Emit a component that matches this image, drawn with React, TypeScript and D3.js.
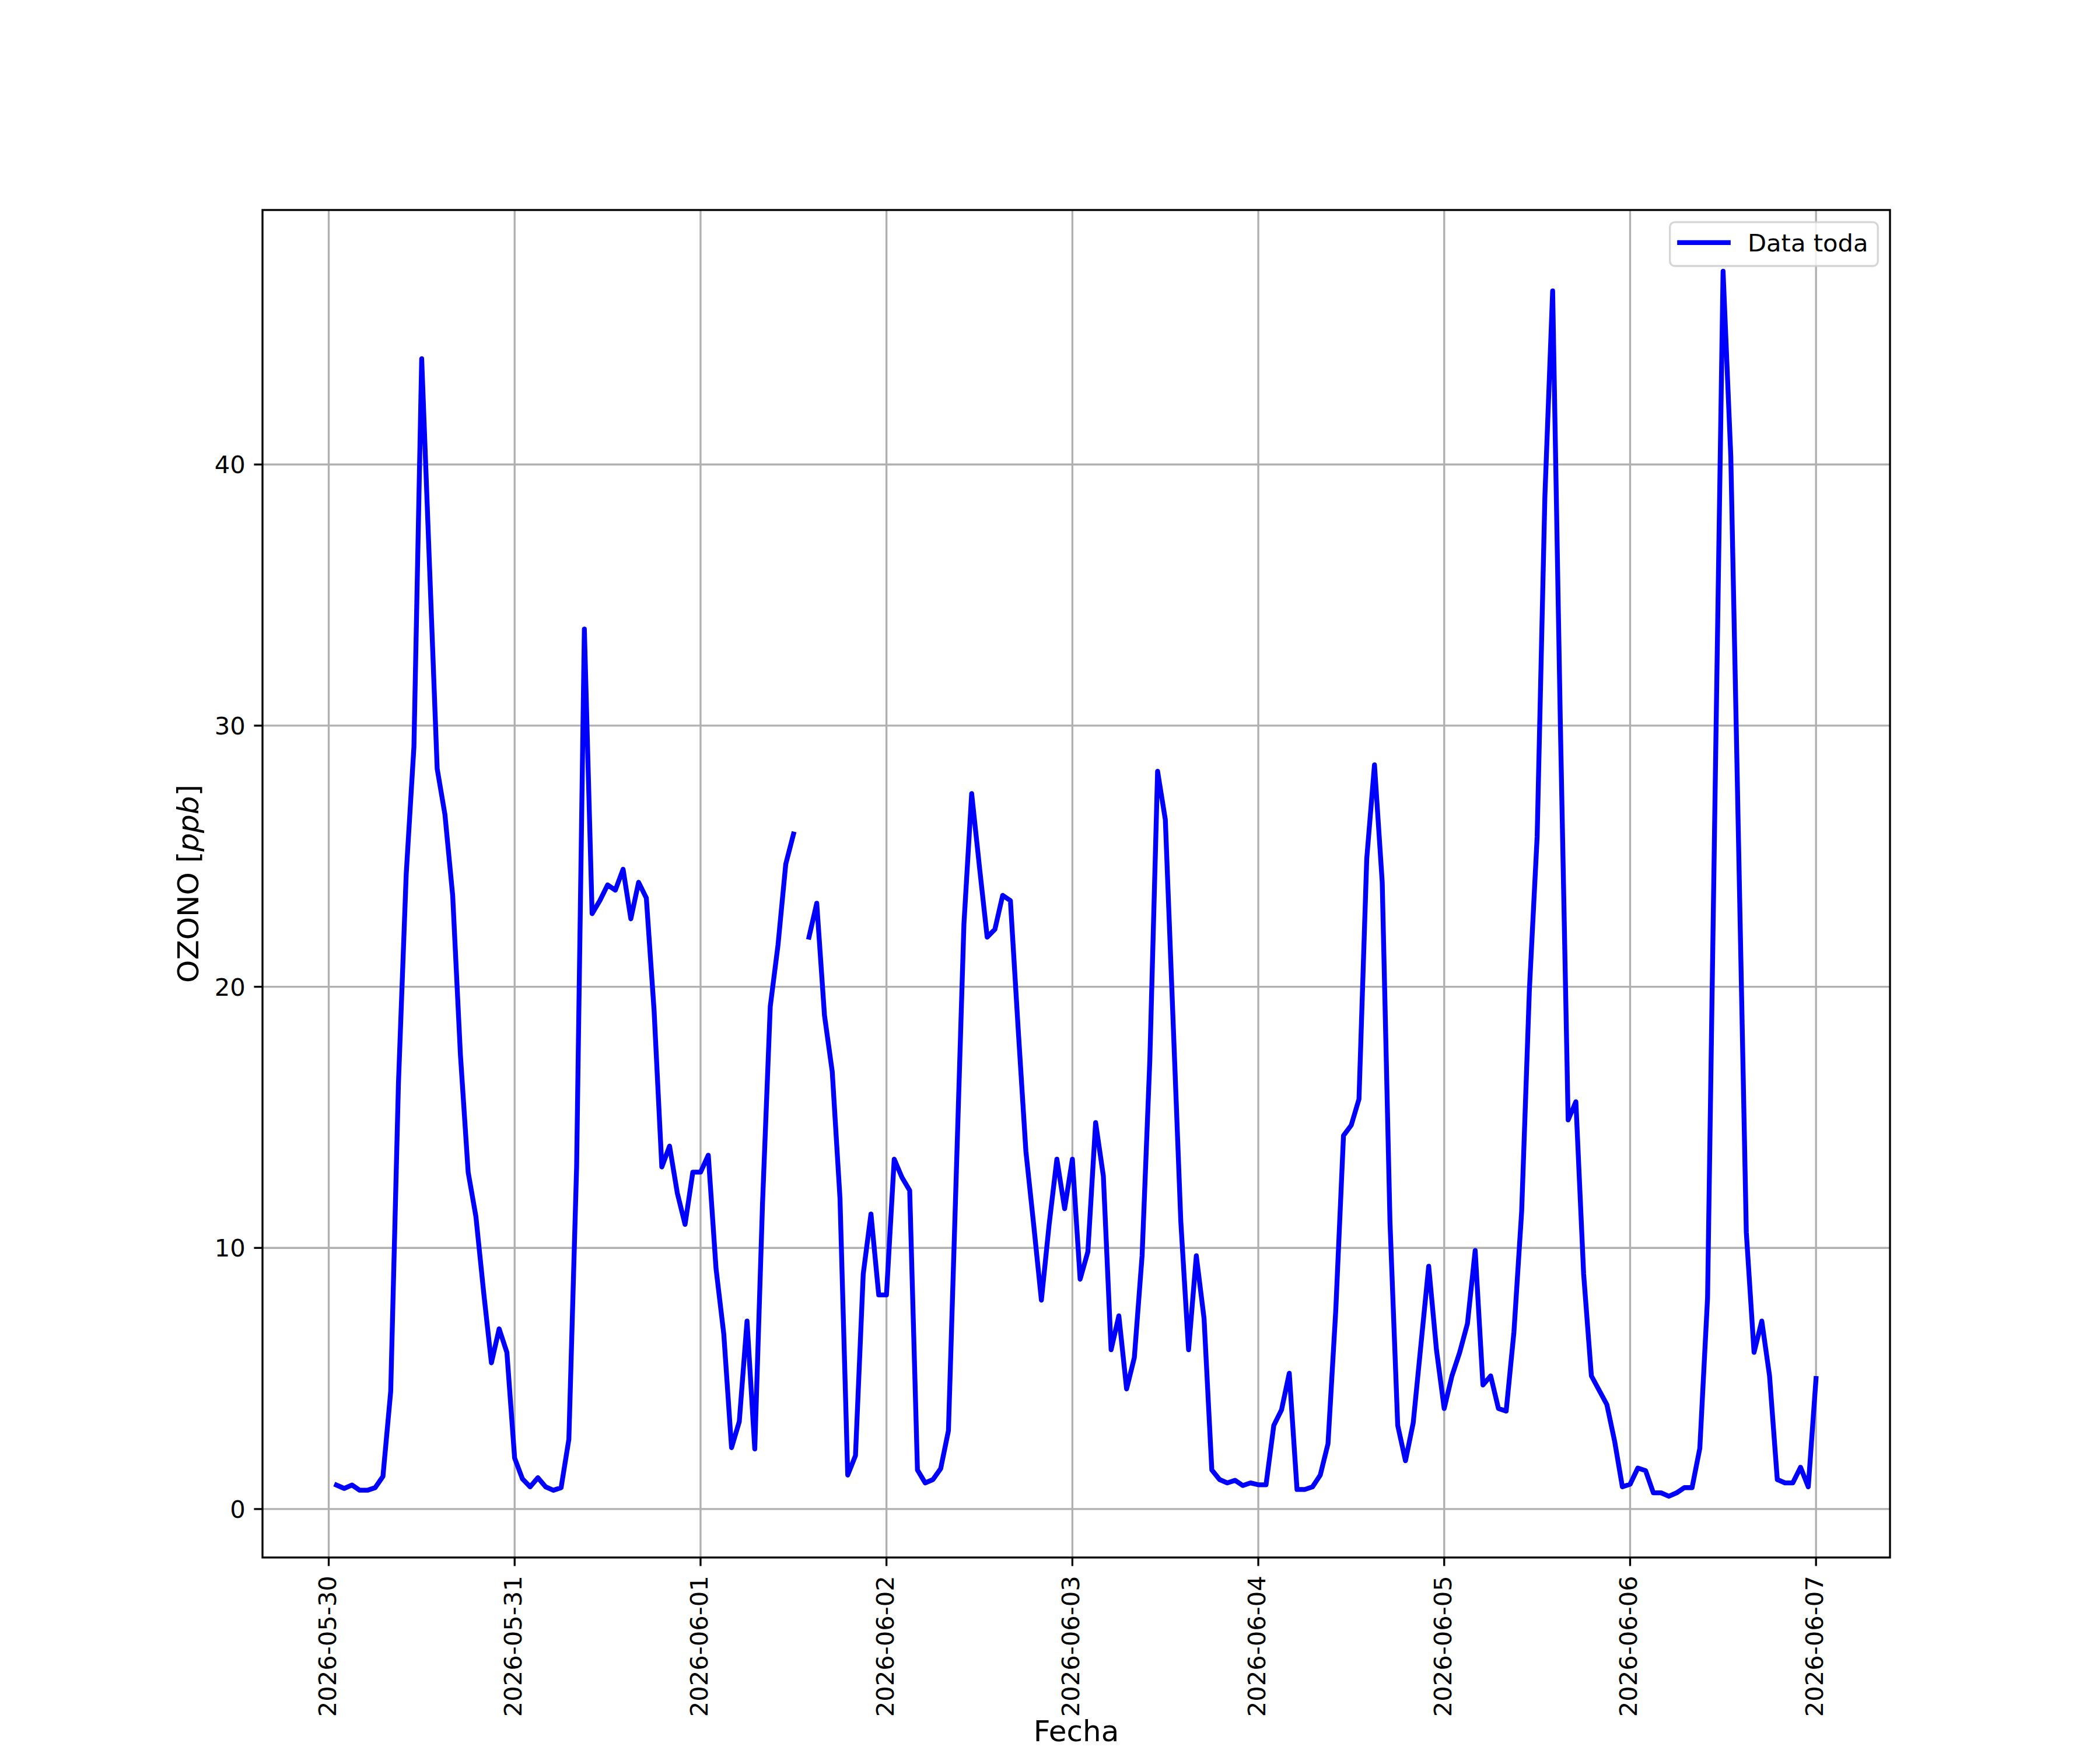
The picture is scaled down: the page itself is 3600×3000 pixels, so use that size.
import React from "react";
import * as d3 from "d3";

// Hourly ozone values (ppb); each array runs 01:00 of the named day to 00:00 of the next day
const day0530 = [0.92, 0.79, 0.92, 0.72, 0.72, 0.82, 1.25, 4.5, 16.3, 24.3, 29.2, 44.05, 36.2, 28.35, 26.6, 23.5, 17.4, 12.9, 11.2, 8.3, 5.6, 6.9, 6.0, 1.95];
const day0531 = [1.16, 0.85, 1.2, 0.85, 0.72, 0.82, 2.67, 13.1, 33.7, 22.8, 23.3, 23.9, 23.7, 24.5, 22.6, 24.0, 23.4, 19.1, 13.1, 13.9, 12.1, 10.9, 12.9, 12.9];
const day0601 = [13.55, 9.2, 6.7, 2.35, 3.35, 7.2, 2.3, 11.7, 19.25, 21.6, 24.7, 25.85, null, 21.9, 23.2, 18.9, 16.75, 11.9, 1.3, 2.05, 9.0, 11.3, 8.2, 8.2];
const day0602 = [13.4, 12.7, 12.2, 1.5, 1.0, 1.13, 1.55, 3.0, 12.7, 22.4, 27.4, 24.6, 21.9, 22.2, 23.5, 23.3, 18.4, 13.7, 10.9, 8.0, 10.9, 13.4, 11.5, 13.4];
const day0603 = [8.8, 9.85, 14.8, 12.75, 6.1, 7.4, 4.6, 5.8, 9.7, 17.2, 28.25, 26.4, 18.7, 11.0, 6.1, 9.7, 7.3, 1.5, 1.13, 1.0, 1.1, 0.9, 1.0, 0.93];
const day0604 = [0.93, 3.2, 3.8, 5.2, 0.75, 0.75, 0.85, 1.3, 2.5, 7.6, 14.3, 14.7, 15.7, 24.9, 28.5, 24.0, 11.0, 3.2, 1.85, 3.3, 6.3, 9.3, 6.1, 3.85];
const day0605 = [5.1, 6.0, 7.1, 9.9, 4.75, 5.1, 3.85, 3.75, 6.77, 11.4, 19.9, 25.75, 38.8, 46.65, 30.0, 14.9, 15.6, 9.0, 5.1, 4.55, 4.0, 2.6, 0.85, 0.95];
const day0606 = [1.57, 1.47, 0.62, 0.62, 0.49, 0.62, 0.82, 0.82, 2.33, 8.1, 28.0, 47.4, 40.3, 25.5, 10.6, 6.0, 7.2, 5.1, 1.13, 1.0, 1.0, 1.6, 0.85, 5.0];

const START = "2026-05-30T01:00:00Z";
const TICK_LABELS = ["2026-05-30", "2026-05-31", "2026-06-01", "2026-06-02", "2026-06-03", "2026-06-04", "2026-06-05", "2026-06-06", "2026-06-07"];
const Y_TICKS = [0, 10, 20, 30, 40];
const SERIES_NAME = "Data toda";
const X_LABEL = "Fecha";

const values: (number | null)[] = [...day0530, ...day0531, ...day0601, ...day0602, ...day0603, ...day0604, ...day0605, ...day0606];
const startDate = new Date(START);
const data = values.map((v, i) => ({ t: d3.utcHour.offset(startDate, i), v }));

const W = 3600, H = 3000;
const L = 450, R = 3240, T = 360, B = 2670;
const FS = 41.667;
const LFS = 50;
const LW = 3.333;
const FONT = "DejaVu Sans";

export default function App() {
  const tExt = d3.extent(data, d => d.t) as [Date, Date];
  const span = +tExt[1] - +tExt[0];
  const x = d3.scaleUtc()
    .domain([new Date(+tExt[0] - 0.05 * span), new Date(+tExt[1] + 0.05 * span)])
    .range([L, R]);
  const vals = data.filter(d => d.v != null).map(d => d.v as number);
  const vMin = d3.min(vals)!, vMax = d3.max(vals)!;
  const vr = vMax - vMin;
  const y = d3.scaleLinear().domain([vMin - 0.05 * vr, vMax + 0.05 * vr]).range([B, T]);

  const line = d3.line<{ t: Date; v: number | null }>()
    .defined(d => d.v != null)
    .x(d => x(d.t))
    .y(d => y(d.v as number));

  const ticks = TICK_LABELS.map(s => ({ s, d: new Date(s + "T00:00:00Z") }));

  // legend geometry
  const legR = R - 0.5 * FS, legT = T + 0.5 * FS;
  const legW = 356.5, legH = 75.2;
  const legL = legR - legW;

  return (
    <svg width={W} height={H} viewBox={`0 0 ${W} ${H}`} style={{ position: "absolute", left: 0, top: 0, background: "#fff" }} fontFamily={FONT}>
      <rect x={0} y={0} width={W} height={H} fill="#fff" />
      {/* grid */}
      <g stroke="#b0b0b0" strokeWidth={LW}>
        {ticks.map(t => (
          <line key={t.s} x1={x(t.d)} x2={x(t.d)} y1={T} y2={B} />
        ))}
        {Y_TICKS.map(v => (
          <line key={v} x1={L} x2={R} y1={y(v)} y2={y(v)} />
        ))}
      </g>
      {/* data line */}
      <path d={line(data) || ""} fill="none" stroke="#0000ff" strokeWidth={8.333} strokeLinejoin="round" strokeLinecap="square" />
      {/* spines */}
      <rect x={L} y={T} width={R - L} height={B - T} fill="none" stroke="#000" strokeWidth={LW} />
      {/* x ticks */}
      <g>
        {ticks.map(t => (
          <g key={t.s}>
            <line x1={x(t.d)} x2={x(t.d)} y1={B} y2={B + 14.58} stroke="#000" strokeWidth={LW} />
            <text
              transform={`translate(${x(t.d) + 12},${B + 14.58 + 14.58 + 2}) rotate(-90)`}
              textAnchor="end"
              fontSize={FS}
              fill="#000"
            >{t.s}</text>
          </g>
        ))}
      </g>
      {/* y ticks */}
      <g>
        {Y_TICKS.map(v => (
          <g key={v}>
            <line x1={L - 14.58} x2={L} y1={y(v)} y2={y(v)} stroke="#000" strokeWidth={LW} />
            <text x={L - 14.58 - 14.58} y={y(v)} dy="0.36em" textAnchor="end" fontSize={FS} fill="#000">{v}</text>
          </g>
        ))}
      </g>
      {/* axis labels */}
      <text x={(L + R) / 2} y={2985} textAnchor="middle" fontSize={LFS} fill="#000">{X_LABEL}</text>
      <text transform={`translate(340,${(T + B) / 2}) rotate(-90)`} textAnchor="middle" fontSize={LFS} fill="#000">
        OZONO [<tspan fontStyle="italic">ppb</tspan>]
      </text>
      {/* legend */}
      <g>
        <rect x={legL} y={legT} width={legW} height={legH} rx={8.33} ry={8.33} fill="#fff" fillOpacity={0.8} stroke="#cccccc" strokeOpacity={0.8} strokeWidth={LW} />
        <line x1={legL + 0.4 * FS} x2={legL + 0.4 * FS + 2 * FS} y1={legT + 35} y2={legT + 35} stroke="#0000ff" strokeWidth={8.333} strokeLinecap="square" />
        <text x={legL + 0.4 * FS + 2.8 * FS} y={legT + 50} fontSize={FS} fill="#000">{SERIES_NAME}</text>
      </g>
    </svg>
  );
}
